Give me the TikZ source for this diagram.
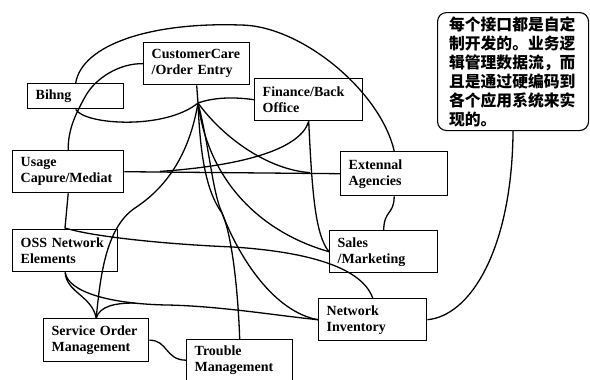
\documentclass[tikz,border=0pt]{standalone}
\usepackage{fontspec}
\setmainfont{Liberation Serif}
\newfontfamily\cjk{Noto Sans CJK SC}
\begin{document}
\begin{tikzpicture}[x=1pt,y=-1pt,
  box/.style={draw, line width=1.4pt, align=left, anchor=north west,
    inner xsep=8pt, inner ysep=0pt,
    font=\bfseries\fontsize{14}{16}\selectfont},
  conn/.style={line width=1.3pt},
  callbox/.style={draw, line width=1.1pt, rounded corners=9pt, anchor=north west,
    minimum width=151pt, minimum height=118pt, text width=128pt,
    inner xsep=11.5pt, inner ysep=0pt, align=left,
    font=\cjk\bfseries\fontsize{15.8}{19}\selectfont}]
\useasboundingbox (0,0) rectangle (590,380);

% boxes
\node[box, text width=90pt, minimum height=42pt] (cc) at (143,42) {CustomerCare\\/Order Entry};
\node[box, text width=80pt, minimum height=25pt] (bill) at (27,83) {Bihng};
\node[box, text width=92pt, minimum height=42pt] (fin) at (254,78) {Finance/Back\\Office};
\node[box, text width=95pt, minimum height=42pt] (usage) at (12,150) {Usage\\Capure/Mediat};
\node[box, text width=91pt, minimum height=44pt] (ext) at (340,151) {Extennal\\Agencies};
\node[box, text width=89pt, minimum height=42pt] (oss) at (12,229) {OSS Network\\Elements};
\node[box, text width=92pt, minimum height=42pt] (sales) at (329,230) {Sales\\/Marketing};
\node[box, text width=92pt, minimum height=42pt] (ni) at (318,298) {Network\\Inventory};
\node[box, text width=89pt, minimum height=43pt] (som) at (43,318) {Service Order\\Management};
\node[box, text width=90pt, minimum height=41pt] (tm) at (186,339) {Trouble\\Management};

\node[callbox] (call) at (437,12) {每个接口都是自定\\制开发的。业务逻\\辑管理数据流，而\\且是通过硬编码到\\各个应用系统来实\\现的。};

% junction points
\coordinate (hub) at (198,103);
\coordinate (m7) at (160,171.4);
\coordinate (m9) at (310,172.6);
\coordinate (m16) at (135,303);

% connectors
\draw[conn] (bill.north) .. controls (82,45) and (150,22) .. (240,25)
  .. controls (300,25) and (380,90) .. (ext.north);
\draw[conn] (cc.west) .. controls (120,63) and (95,78) .. (85,97)
  .. controls (75,115) and (68,130) .. (usage.north);
\draw[conn] (bill.south) .. controls (85,125) and (165,130) .. (hub);
\draw[conn] (cc.south) -- (hub);
\draw[conn] (hub) .. controls (215,97) and (235,97) .. (fin.west);
\draw[conn] (usage.east) -- (ext.west);
\draw[conn] (fin.south) .. controls (300,150) and (240,166) .. (m7);
\draw[conn] (fin.south) .. controls (312,190) and (315,235) .. (sales.west);
\draw[conn] (hub) .. controls (225,140) and (270,170) .. (m9);
\draw[conn] (hub) .. controls (210,190) and (270,235) .. (sales.west);
\draw[conn] (hub) .. controls (190,150) and (170,185) .. (135,208)
  .. controls (105,228) and (100,280) .. (som.north);
\draw[conn] (hub) .. controls (200,150) and (205,190) .. (222,213)
  .. controls (232,235) and (238,290) .. (tm.north);
\draw[conn] (hub) .. controls (210,150) and (212,190) .. (222,213)
  .. controls (240,260) and (275,312) .. (ni.west);
\draw[conn] (usage.south) -- (65,228) .. controls (90,236) and (160,244) .. (233,247)
  .. controls (310,252) and (362,268) .. (ni.north);
\draw[conn] (oss.south) .. controls (68,292) and (110,304) .. (167,305)
  .. controls (220,306) and (280,316) .. (ni.west);
\draw[conn] (som.north) .. controls (100,306) and (115,303) .. (m16);
\draw[conn] (oss.south) .. controls (66,292) and (92,296) .. (som.north);
\draw[conn] (som.east) .. controls (168,340) and (165,360) .. (tm.west);
\draw[conn] (ext.south) .. controls (394,215) and (384,210) .. (sales.north);
\draw[conn] (call.south) .. controls (512,250) and (470,316) .. (ni.east);
\end{tikzpicture}
\end{document}
